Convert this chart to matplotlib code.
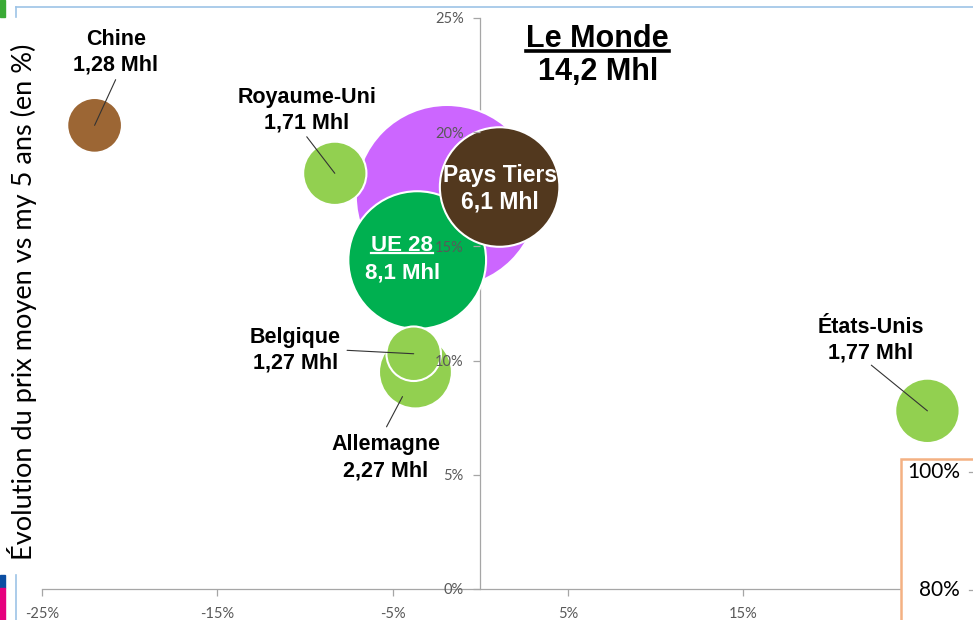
import matplotlib
matplotlib.use("Agg")
import matplotlib.pyplot as plt
from matplotlib.lines import Line2D
from matplotlib.patches import Rectangle

plt.rcParams["font.family"] = ["Lato", "DejaVu Sans"]

W, H = 973, 620
BOLD = "Liberation Sans"

# --- data ---
regions = ["Le Monde", "UE 28", "Pays Tiers", "Allemagne", "États-Unis",
           "Royaume-Uni", "Chine", "Belgique"]
evol_volume = [-1.9, -3.6, 1.1, -3.7, 25.5, -8.3, -22.0, -3.8]      # x, %
evol_prix = [17.2, 14.4, 17.6, 9.5, 7.8, 18.2, 20.3, 10.3]          # y, %
volume_mhl = [14.2, 8.1, 6.1, 2.27, 1.77, 1.71, 1.28, 1.27]         # bubble size
volume_txt = ["14,2 Mhl", "8,1 Mhl", "6,1 Mhl", "2,27 Mhl", "1,77 Mhl",
              "1,71 Mhl", "1,28 Mhl", "1,27 Mhl"]
bubble_colors = ["#CC66FF", "#00B050", "#52381E", "#92D050", "#92D050",
                 "#92D050", "#9C6634", "#92D050"]

x_ticks = [-25, -15, -5, 5, 15, 25]
y_ticks = [0, 5, 10, 15, 20, 25]

# outside labels: region -> (label pos, leader start, shrink at bubble end in pt)
outer_labels = {
    "Chine": ((-20.8, 23.5), (-20.8, 22.3), 0),
    "Royaume-Uni": ((-9.9, 20.95), (-9.9, 19.8), 0),
    "Belgique": ((-10.55, 10.45), (-7.6, 10.45), 0),
    "Allemagne": ((-5.4, 5.75), (-5.35, 7.1), 20),
    "États-Unis": ((22.25, 10.9), (22.3, 9.8), 0),
}


def fx(px):
    return px / W


def fy(py):
    return 1 - py / H


fig = plt.figure(figsize=(W / 100, H / 100), dpi=100)
ax = fig.add_axes([fx(42), fy(589), 1 - fx(42), (589 - 18) / H])
ax.set_xlim(-25, 28.1)
ax.set_ylim(0, 25)

ax.scatter(evol_volume, evol_prix, s=[1214 * v for v in volume_mhl],
           c=bubble_colors, edgecolors="white", linewidths=1.5,
           zorder=2, clip_on=False)

# axes styling: y axis crosses at x = 0
for side in ("top", "right"):
    ax.spines[side].set_visible(False)
ax.spines["left"].set_position(("data", 0))
for side in ("left", "bottom"):
    ax.spines[side].set_color("#A6A6A6")
    ax.spines[side].set_linewidth(0.9)
ax.spines["left"].set_zorder(0.5)
ax.set_xticks(x_ticks, [f"{t}%" for t in x_ticks])
ax.set_yticks(y_ticks, [f"{t}%" for t in y_ticks])
ax.tick_params(axis="both", colors="#A6A6A6", labelcolor="#595959",
               labelsize=10.5, length=5, width=0.9, direction="out")
ax.tick_params(axis="x", pad=8)
ax.tick_params(axis="y", pad=7)
ax.yaxis.set_zorder(10)
ax.patch.set_alpha(0)

# labels outside bubbles with leader lines
for name, (pos, start, shrink) in outer_labels.items():
    i = regions.index(name)
    ax.text(pos[0], pos[1], f"{name}\n{volume_txt[i]}", ha="center",
            va="center", fontsize=15.5, fontweight="bold", family=BOLD,
            linespacing=1.3, zorder=6)
    ax.annotate("", xy=(evol_volume[i], evol_prix[i]), xytext=start,
                arrowprops=dict(arrowstyle="-", color="#333333", lw=0.8,
                                shrinkA=0, shrinkB=shrink), zorder=5)

# labels inside bubbles
ue = regions.index("UE 28")
pt = regions.index("Pays Tiers")
t_ue = ax.text(-4.45, 15.05, "UE 28", ha="center", va="center", color="white",
               fontsize=16, fontweight="bold", family=BOLD, zorder=6)
ax.text(-4.45, 13.85, volume_txt[ue], ha="center", va="center", color="white",
        fontsize=16, fontweight="bold", family=BOLD, zorder=6)
ax.text(1.1, 18.1, "Pays Tiers", ha="center", va="center", color="white",
        fontsize=16.5, fontweight="bold", family=BOLD, zorder=6)
ax.text(1.1, 16.95, volume_txt[pt], ha="center", va="center", color="white",
        fontsize=16.5, fontweight="bold", family=BOLD, zorder=6)

# world total
t_world = ax.text(6.7, 24.1, "Le Monde", ha="center", va="center",
                  fontsize=22, fontweight="bold", family=BOLD, zorder=6)
ax.text(6.7, 22.65, volume_txt[0], ha="center", va="center",
        fontsize=22, fontweight="bold", family=BOLD, zorder=6)

fig.text(fx(22), fy(302), "Évolution du prix moyen vs my 5 ans (en %)",
         rotation=90, ha="center", va="center", fontsize=19.5, color="black")


def underline(txt, color, lw, gap):
    fig.canvas.draw()
    bb = txt.get_window_extent()
    inv = fig.transFigure.inverted()
    (x0, y0), (x1, _) = inv.transform([(bb.x0, bb.y0 + gap), (bb.x1, bb.y0)])
    fig.add_artist(Line2D([x0, x1], [y0, y0], color=color, lw=lw, zorder=7))


underline(t_world, "black", 2.6, 3)
underline(t_ue, "white", 1.6, 3)

# slide decorations around the chart
fig.add_artist(Line2D([fx(16), 1], [fy(7), fy(7)], color="#9DC3E6", lw=1.2))
fig.add_artist(Line2D([fx(16), fx(16)], [fy(7), fy(17)], color="#9DC3E6", lw=1.2))
fig.add_artist(Line2D([fx(16), fx(16)], [fy(575), 0], color="#9DC3E6", lw=1.2))
fig.add_artist(Rectangle((0, fy(17)), fx(5), 17 / H, transform=fig.transFigure,
                         color="#3AAA35", zorder=8))
fig.add_artist(Rectangle((0, fy(588)), fx(5), 13 / H, transform=fig.transFigure,
                         color="#0B4EA2", zorder=8))
fig.add_artist(Rectangle((0, 0), fx(5), fy(588), transform=fig.transFigure,
                         color="#E6007E", zorder=8))

# neighbouring chart box (bottom right)
fig.add_artist(Rectangle((fx(901), -0.05), 0.2, fy(459) + 0.05,
                         transform=fig.transFigure, facecolor="white",
                         edgecolor="#F4B183", lw=1.8, zorder=8))
fig.text(fx(960), fy(472), "100%", ha="right", va="center", fontsize=15,
         zorder=9)
fig.text(fx(960), fy(590), "80%", ha="right", va="center", fontsize=15,
         zorder=9)
for py in (472, 590):
    fig.add_artist(Line2D([fx(969), 1], [fy(py), fy(py)], color="#A6A6A6",
                          lw=0.9, zorder=9))

fig.savefig("out.png", dpi=100)
